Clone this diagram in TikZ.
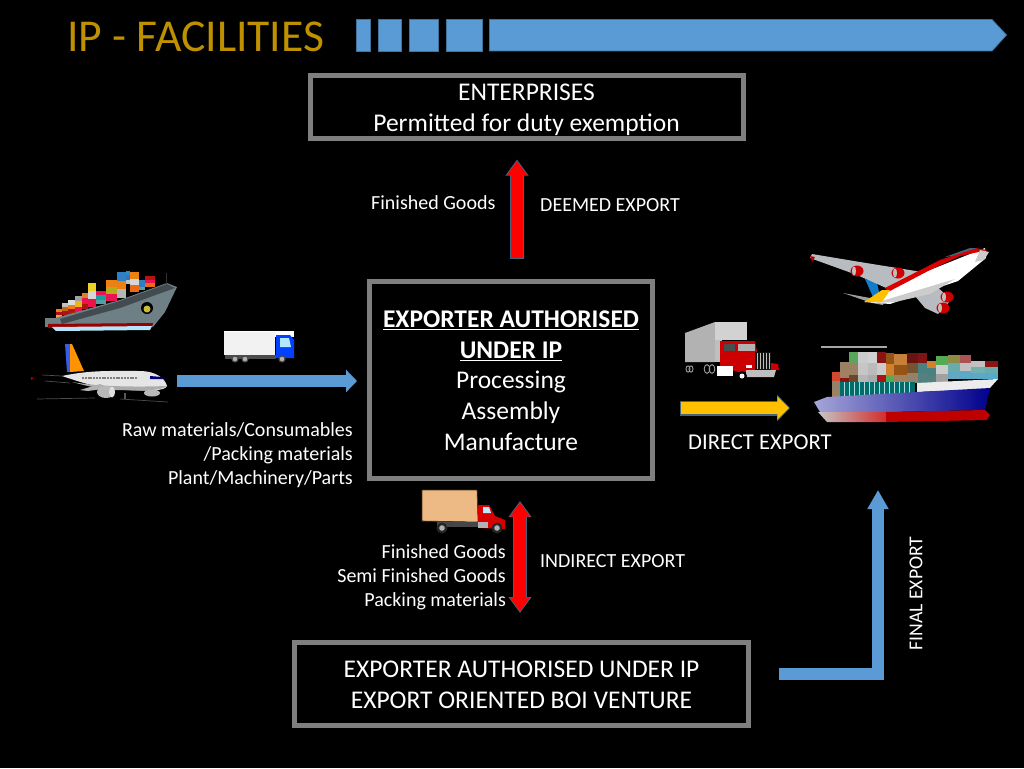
\documentclass[tikz,border=0pt]{standalone}
\usepackage{fontspec}
\setmainfont{Carlito}
\usetikzlibrary{arrows.meta}
\definecolor{gold}{HTML}{BF9000}
\definecolor{iblue}{HTML}{5B9BD5}
\definecolor{iblueline}{HTML}{41719C}
\definecolor{boxgrey}{HTML}{7F7F7F}
\definecolor{iyellow}{HTML}{FFC000}
\definecolor{slate}{HTML}{46637F}
\definecolor{hullgrey}{HTML}{6E7F86}
\definecolor{wingrey}{HTML}{B8BCC0}
\tikzset{
  framebox/.style={draw=boxgrey,line width=5pt,inner sep=0pt,align=center,text=white,
    font=\fontsize{25.5}{30.6}\selectfont},
  label/.style={text=white,inner sep=0pt,font=\fontsize{20}{24}\selectfont},
  titlebit/.style={fill=iblue,draw=iblueline,line width=.8pt},
}
\newcommand\cstack[7]{%
  \pgfmathsetmacro\ya{#3+(#4-#3)/3}\pgfmathsetmacro\yb{#3+2*(#4-#3)/3}%
  \colorlet{stackA}{#5}\colorlet{stackB}{#6}\colorlet{stackC}{#7}%
  \fill[stackA!85!gray] (#1,#3) rectangle ++(#2,\ya-#3);
  \fill[stackB!85!gray] (#1,\ya) rectangle ++(#2,\yb-\ya);
  \fill[stackC!85!gray] (#1,\yb) rectangle ++(#2,#4-\yb);
}
\begin{document}
\begin{tikzpicture}[x=1pt,y=-1pt]
\useasboundingbox (0,0) rectangle (1024,768);
\fill[black] (0,0) rectangle (1024,768);

% title
\node[anchor=west,inner sep=0pt,text=gold,font=\fontsize{45.6}{46}\selectfont] (title) at (67,37) {IP - FACILITIES};
\filldraw[titlebit] (356.5,19.5) rectangle (370,51);
\filldraw[titlebit] (378,19.5) rectangle (401,51);
\filldraw[titlebit] (409,19.5) rectangle (438,51);
\filldraw[titlebit] (446,19.5) rectangle (482,51);
\filldraw[titlebit] (489.5,19.5) -- (992,19.5) -- (1006.5,35) -- (992,51) -- (489.5,51) -- cycle;

% boxes
\node[framebox,minimum width=433pt,minimum height=63pt] (ent) at (526.5,106.5) {\rule{0pt}{23pt}ENTERPRISES\\Permitted for duty exemption};
\node[framebox,minimum width=283pt,minimum height=197pt] (mid) at (511,380)
  {\rule{0pt}{18pt}\textbf{\underline{EXPORTER AUTHORISED}}\\\textbf{\underline{UNDER IP}}\\Processing\\Assembly\\Manufacture};
\node[framebox,minimum width=454pt,minimum height=83pt] (bot) at (521.5,684)
  {\rule{0pt}{18pt}EXPORTER AUTHORISED UNDER IP\\EXPORT ORIENTED BOI VENTURE};

% labels
\node[label,anchor=west] (l1) at (371,203) {Finished Goods};
\node[label,anchor=west] (l2) at (540,205.5) {DEEMED EXPORT};
\node[label,anchor=east,align=right] (l3) at (353,455) {Raw materials/Consumables\\/Packing materials\\Plant/Machinery/Parts};
\node[label,anchor=east,align=right] (l4) at (506,577) {Finished Goods\\Semi Finished Goods\\Packing materials};
\node[label,anchor=west] (l5) at (540,561) {INDIRECT EXPORT};
\node[label,anchor=west,font=\fontsize{22.6}{24}\selectfont] (l6) at (688,442.5) {DIRECT EXPORT};
\node[label,rotate=90,font=\fontsize{19.7}{22}\selectfont] (l7) at (916,593.5) {FINAL EXPORT};

% connectors
\coordinate (leftstart) at (177,381);
\coordinate (yellowend) at (790,408);
\coordinate (elbowend) at (878,490);
% deemed export
\draw[slate,line width=14pt,-{Triangle[length=16pt,width=22pt]}] ([xshift=6pt,yshift=20pt]mid.north) -- ([xshift=-9.5pt,yshift=-19pt]ent.south);
\draw[red,line width=11.5pt,-{Triangle[length=14pt,width=19pt]},shorten >=1.5pt,shorten <=.8pt] ([xshift=6pt,yshift=20pt]mid.north) -- ([xshift=-9.5pt,yshift=-19pt]ent.south);
% inputs
\draw[iblue,line width=11.5pt,-{Triangle[length=11pt,width=22pt]}] (leftstart) -- ([xshift=-10pt,yshift=-1pt]mid.west);
% direct
\draw[slate,line width=15pt,-{Triangle[length=13pt,width=26pt]}] ([xshift=25pt,yshift=-28pt]mid.east) -- (yellowend);
\draw[iyellow,line width=12.5pt,-{Triangle[length=11.5pt,width=22.5pt]},shorten >=1.2pt,shorten <=1pt] ([xshift=25pt,yshift=-28pt]mid.east) -- (yellowend);
% indirect
\draw[slate,line width=14pt,{Triangle[length=16pt,width=22pt]}-{Triangle[length=16pt,width=22pt]}] ([xshift=9pt,yshift=-20pt]mid.south) -- ([xshift=-1.5pt,yshift=27pt]bot.north);
\draw[red,line width=11.5pt,{Triangle[length=14pt,width=19pt]}-{Triangle[length=14pt,width=19pt]},shorten >=1.5pt,shorten <=1.5pt] ([xshift=9pt,yshift=-20pt]mid.south) -- ([xshift=-1.5pt,yshift=27pt]bot.north);
% final
\draw[iblue,line width=12pt,-{Triangle[length=19pt,width=20pt]}] ([xshift=28pt,yshift=10pt]bot.east) -| (elbowend);

%%% left ship
\cstack{56}{6}{309}{318}{orange}{red!70!black}{orange!70!white}
\cstack{62}{6}{303}{315}{gray!40}{orange!80!black}{red!70!black}
\cstack{68}{7}{300}{314}{white!85!gray}{orange}{red!75!black}
\cstack{75}{7}{296}{312}{gray!70}{iyellow}{red!70!magenta}
\cstack{82}{6}{293}{309}{orange!80!brown}{red!70!magenta}{red!70!black}
\cstack{88}{8}{283}{307}{yellow!80!orange}{white!80!gray}{red!75!magenta}
\cstack{96}{10}{291}{304}{red!70!magenta}{teal!70!cyan}{teal!70}
\cstack{106}{11}{280}{301}{orange}{olive!60!yellow}{red!70!magenta}
\cstack{117}{9}{272}{298}{cyan!60!blue}{orange}{gray!50}
\cstack{126}{4}{271}{284}{cyan!70!blue}{cyan!50!blue}{gray!40}
\cstack{130}{9}{272}{292}{orange}{white!80!gray}{orange!80!red}
\cstack{139}{6}{280}{290}{cyan!60!blue}{cyan!60!blue}{teal!70}
\cstack{145}{10}{276}{287}{red!75!black}{red!70!magenta}{orange!80!red}
\fill[hullgrey] (45,318) -- (55,318) -- (120,300) -- (167,283) -- (177,287) -- (165,312) -- (153,327) -- (45,327) -- cycle;
\fill[hullgrey!60!black] (60,319) -- (120,301) -- (167,284) -- (175,288) -- (120,308) -- (62,324) -- cycle;
\fill[black!60!gray] (166,273) rectangle (167,284);
\fill[red!60!black] (48,324) -- (153,323) -- (152,327) -- (48,328) -- cycle;
\fill[white!70!cyan] (52,327) -- (152,326) -- (150,330) -- (56,331) -- cycle;
\fill[black] (147,308) circle (6);
\fill[yellow!75!black] (147,309) circle (3.5);

%%% left plane
\fill[iblue!60!blue] (65,344) -- (72,344) -- (72,372) -- (67,372) -- cycle;
\fill[orange!85!yellow] (70,344) -- (72,344) -- (84,371) -- (70,372) -- cycle;
\fill[gray!20] (62,376) .. controls (90,370) and (110,371) .. (140,371) .. controls (155,371) and (165,378) .. (167,386) .. controls (165,391) and (150,391) .. (125,390) .. controls (100,389) and (80,382) .. (62,376) -- cycle;
\fill[gray!65] (72,382) .. controls (90,387) and (110,391) .. (125,390) .. controls (140,391) and (160,391) .. (167,386) .. controls (140,387) and (100,387) .. (72,382) -- cycle;
\fill[gray!60] (110,388) -- (88,391) -- (80,390) -- (100,384) -- cycle;
\fill[gray!55] (106,392) ellipse (9 and 6);
\fill[gray!25] (112,392) ellipse (3 and 5.5);
\fill[gray!55] (152,393) ellipse (8 and 3.5);
\draw[gray,line width=1.3pt,dash pattern=on 2pt off .8pt] (82,378) -- (138,378);
\fill[blue!45!black] (150,376) -- (162,377) -- (163,379) -- (150,379) -- cycle;
\draw[gray!60!black,line width=.7pt] (37,399) -- (95,398) (120,399) -- (168,402);
\draw[gray!60!black,line width=.7pt] (42,375) -- (62,376) (45,381) -- (70,383);
\fill[red!70!black] (31,377) -- (34,378) -- (31,380) -- cycle;
\fill[gray!70!black] (124,393) rectangle (126,399);

%%% small white truck
\fill[gray!10] (224,331) rectangle (275,355);
\fill[white] (275,331) rectangle (294,337);
\fill[white] (224,331) rectangle (294,332);
\fill[blue!75!cyan] (276,335) -- (290,335) -- (294,340) -- (294,358) -- (276,358) -- cycle;
\fill[cyan!30!white] (280,338) -- (289,338) -- (291,347) -- (280,347) -- cycle;
\fill[gray!60!black] (225,355) rectangle (276,359);
\foreach \tx in {235,245,282} {\fill[black!70] (\tx,359) circle (3.6); \fill[gray!60] (\tx,359) circle (2.2);}

%%% brown delivery truck
\fill[brown!50!orange!55!white,draw=black!60!brown,line width=.6pt] (422,490) -- (477,490) -- (478,522) -- (422,521) -- cycle;
\fill[gray!55!black] (437,522) rectangle (478,527);
\fill[red!85!black] (478,505) -- (489,505) -- (495,516) -- (505,520) -- (505,529) -- (478,528) -- cycle;
\fill[cyan!25!white] (483,507) -- (489,507) -- (491,513) -- (483,513) -- cycle;
\fill[gray!60] (478,522) rectangle (488,528);
\foreach \tx in {442,497} {\fill[black!85] (\tx,528) circle (5.5); \fill[gray!60] (\tx,528) circle (2.8);}

%%% right truck
\fill[gray!60] (685,333) -- (715,322) -- (715,362) -- (685,362) -- cycle;
\fill[gray!35] (715,322) rectangle (747,340);
\fill[gray!50] (715,340) rectangle (722,362);
\fill[red!80!black] (720,341) -- (755,341) -- (757,352) -- (768,352) -- (760,372) -- (738,372) -- (725,368) -- (720,368) -- cycle;
\fill[gray!60!black] (724,344) rectangle (735,351);
\fill[gray!60!white] (738,344) rectangle (755,351);
\fill[black!85!gray] (755,352) -- (771,352) -- (771,370) -- (755,370) -- cycle;
\foreach \gx in {757,760,763,766,769} {\draw[gray!50,line width=.6pt] (\gx,353) -- (\gx,369);}
\fill[red!80!black] (771,363) -- (778,364) -- (779,370) -- (771,370) -- cycle;
\fill[gray!50] (746,370) -- (776,370) -- (774,377) -- (746,377) -- cycle;
\fill[white] (717,366) rectangle (733,376);
\foreach \tx/\tr in {688/2.5,691/2.5,707/3.5,712/3.5} {\draw[gray!75,line width=.9pt] (\tx,369) ellipse (\tr*.8 and \tr*1.25);}
\fill[black] (742,376) circle (5); \fill[white] (742,376) circle (2.5);
\fill[white] (746,365) rectangle (752,368);

%%% right plane
\fill[cyan!60!blue] (865,279) -- (877,283) -- (880,296) -- (873,297) -- cycle;
\fill[gray!75] (843,293) -- (870,298) -- (885,297) -- (883,305) -- (872,303) -- cycle;
\fill[wingrey] (810,258) -- (812,254) -- (860,262) -- (922,272) -- (925,282) -- (893,291) -- (857,275) -- cycle;
\fill[wingrey] (905,284) -- (930,280) -- (951,300) -- (938,314) -- (925,308) -- cycle;
\fill[white] (865,302) -- (920,274) -- (985,248) -- (986,258) -- (958,281) -- (890,304) -- cycle;
\fill[gray!40] (875,303) -- (955,279) -- (930,294) -- (895,302) -- cycle;
\fill[red!85!black] (885,288) -- (940,260) -- (975,248) -- (988,250) -- (960,256) -- (930,270) -- (888,292) -- cycle;
\fill[slate] (945,257) -- (970,248) -- (977,248) -- (952,256) -- cycle;
\fill[iyellow] (864,302) -- (882,290) -- (890,290) -- (882,302) -- cycle;
\fill[gray!40] (980,250) -- (989,252) -- (984,260) -- (975,262) -- cycle;
\foreach \ex/\ey in {857/271,898/273,947/297,943/308} {\fill[red!80!black] (\ex,\ey) ellipse (6.5 and 5.5); \fill[gray!50] (\ex-3,\ey) ellipse (2 and 4.5);}
\fill[red!70!black] (810,256) -- (815,257) -- (812,262) -- cycle;

%%% right ship
\fill[gray!70!white] (821,346) rectangle (887,347.5);
\cstack{832}{8}{372}{400}{red!50!brown}{gray!60!brown}{brown!60!gray}
\cstack{840}{9}{362}{386}{gray!50!brown}{brown!60!gray}{red!55!black}
\cstack{849}{9}{352}{386}{gray!65!green}{brown!50!gray}{brown!50!black}
\cstack{858}{10}{352}{386}{white!70!gray}{white!65!gray}{gray!50}
\cstack{868}{9}{352}{386}{white!75!gray}{white!55!gray}{gray!60}
\cstack{877}{9}{352}{386}{red!55!black}{white!70!gray}{red!70!black}
\cstack{886}{8}{353}{386}{orange!60!black}{orange!50!brown}{gray!60!green}
\cstack{894}{13}{354}{386}{orange!65!gray}{orange!60!black}{brown!60!gray}
\cstack{907}{11}{353}{383}{red!40!black}{brown!60!black}{gray!60!brown}
\cstack{918}{9}{353}{383}{red!50!black}{teal!50!gray}{teal!40!gray}
\cstack{927}{9}{361}{383}{orange!50!brown}{teal!50!gray}{teal!40!gray}
\cstack{936}{12}{356}{383}{gray!60!green}{white!70!gray}{gray!70}
\cstack{948}{12}{355}{379}{olive!60!gray}{teal!60}{cyan!60!gray}
\cstack{960}{11}{355}{379}{red!40!gray}{white!60!gray}{cyan!65!gray}
\cstack{971}{14}{361}{379}{white!60!gray}{teal!55}{cyan!65!gray}
\cstack{985}{13}{361}{379}{red!55!black}{teal!60}{cyan!70!gray}
\fill[teal!85!black] (840,382) rectangle (915,396);
\foreach \qx in {844,849,...,912} {\draw[teal!30!white,line width=.6pt] (\qx,382) -- (\qx,396);}
\fill[white!85!gray] (917,383) -- (998,379) -- (989,389) -- (917,392) -- cycle;
\shade[left color=gray!60!blue!50!white,right color=blue!55!black] (814,402) -- (827,397) -- (917,392) -- (990,388) -- (985,410) -- (890,412) -- (820,412) -- cycle;
\fill[red!75!black] (885,412) -- (985,410) -- (990,415) -- (987,420) -- (885,422) -- cycle;
\shade[left color=gray!45!white,right color=red!65!gray] (818,412) -- (886,412) -- (886,422) -- (827,422) -- cycle;
\end{tikzpicture}
\end{document}
